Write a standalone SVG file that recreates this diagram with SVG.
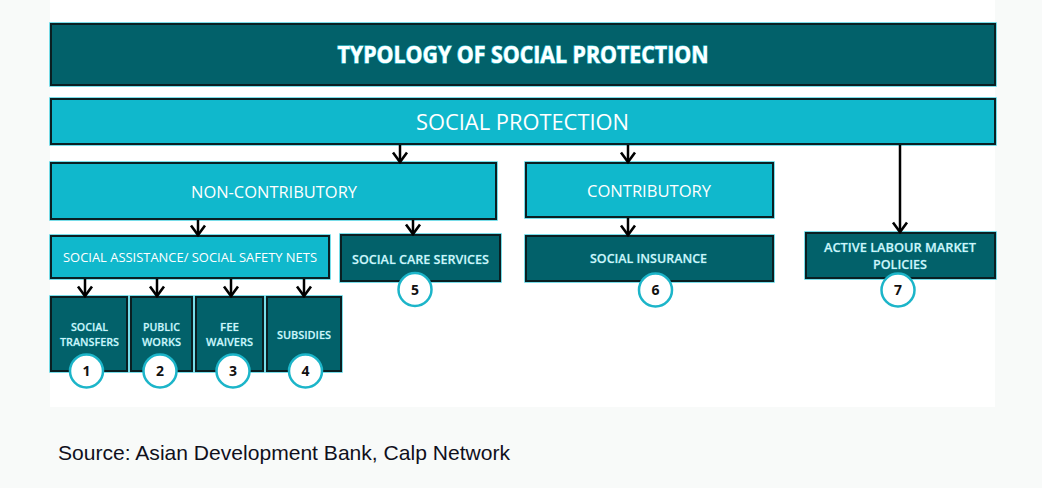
<svg xmlns="http://www.w3.org/2000/svg" width="1042" height="488" viewBox="0 0 1042 488">
  <defs>
    <style>
      .halo { fill: none; stroke: #4cd2e2; stroke-width: 1.5; }
      .dark { fill: #02616a; stroke: #0a1f22; stroke-width: 2; }
      .light { fill: #10b8cc; stroke: #0a1f22; stroke-width: 2; }
      .t { font-family: "Open Sans", "Noto Sans", "Liberation Sans", sans-serif; text-anchor: middle; }
      .tw { fill: #ffffff; }
      .td { fill: #d2f3f7; font-weight: 600; stroke: #3fc9db; stroke-width: 0.6; stroke-opacity: 0.7; paint-order: stroke; }
      .conn line { stroke: #000; stroke-width: 2.5; }
      .badge circle { fill: #fff; stroke: #1cb5c9; stroke-width: 2.5; }
      .badge text { font-family: "Open Sans", "Noto Sans", "Liberation Sans", sans-serif; font-weight: 700; font-size: 14px; fill: #111; text-anchor: middle; }
    </style>
    <marker id="arr" markerUnits="userSpaceOnUse" orient="auto" refX="0" refY="0" markerWidth="20" markerHeight="20" viewBox="-12 -10 14 20" overflow="visible">
      <path d="M-9.5,-7 L0,0 L-9.5,7" fill="none" stroke="#000" stroke-width="2.6" stroke-linejoin="miter"/>
    </marker>
  </defs>

  <rect x="0" y="0" width="1042" height="488" fill="#f8faf9"/>
  <rect x="50" y="0" width="945" height="407" fill="#ffffff"/>

  <g id="title">
    <rect class="halo" x="50" y="23" width="946" height="63"/>
    <rect x="51" y="24" width="944" height="61" fill="#02616a" stroke="#0a1f22" stroke-width="2"/>
    <text class="t" x="523" y="63" font-size="23" font-weight="700" fill="#ffffff" stroke="#58dceb" stroke-width="1.2" paint-order="stroke" textLength="371" lengthAdjust="spacingAndGlyphs">TYPOLOGY OF SOCIAL PROTECTION</text>
  </g>

  <g id="social-protection">
    <rect class="halo" x="50" y="98" width="946" height="47"/>
    <rect class="light" x="51" y="99" width="944" height="45"/>
    <text class="t tw" x="522.5" y="130" font-size="22" textLength="213" lengthAdjust="spacingAndGlyphs">SOCIAL PROTECTION</text>
  </g>

  <g id="non-contributory">
    <rect class="halo" x="50" y="162" width="447" height="58"/>
    <rect class="light" x="51" y="163" width="445" height="56"/>
    <text class="t tw" x="274" y="198" font-size="16.5" textLength="166" lengthAdjust="spacingAndGlyphs">NON-CONTRIBUTORY</text>
  </g>

  <g id="contributory">
    <rect class="halo" x="525" y="162" width="249" height="56"/>
    <rect class="light" x="526" y="163" width="247" height="54"/>
    <text class="t tw" x="649" y="197" font-size="16.5" textLength="124" lengthAdjust="spacingAndGlyphs">CONTRIBUTORY</text>
  </g>

  <g id="social-assistance">
    <rect class="halo" x="50" y="235" width="280" height="44"/>
    <rect class="light" x="51" y="236" width="278" height="42"/>
    <text class="t tw" x="190" y="262" font-size="13" textLength="254" lengthAdjust="spacingAndGlyphs">SOCIAL ASSISTANCE/ SOCIAL SAFETY NETS</text>
  </g>

  <g id="social-care">
    <rect class="halo" x="340" y="234" width="161" height="48"/>
    <rect class="dark" x="341" y="235" width="159" height="46"/>
    <text class="t td" x="420.5" y="264" font-size="12.5" textLength="137" lengthAdjust="spacingAndGlyphs">SOCIAL CARE SERVICES</text>
  </g>

  <g id="social-insurance">
    <rect class="halo" x="525" y="235" width="249" height="47"/>
    <rect class="dark" x="526" y="236" width="247" height="45"/>
    <text class="t td" x="648.5" y="263" font-size="12.5" textLength="117" lengthAdjust="spacingAndGlyphs">SOCIAL INSURANCE</text>
  </g>

  <g id="active-labour">
    <rect class="halo" x="805" y="232" width="191" height="47"/>
    <rect class="dark" x="806" y="233" width="189" height="45"/>
    <text class="t td" x="900" y="252" font-size="12.5" textLength="152" lengthAdjust="spacingAndGlyphs">ACTIVE LABOUR MARKET</text>
    <text class="t td" x="900" y="269" font-size="12.5" textLength="54" lengthAdjust="spacingAndGlyphs">POLICIES</text>
  </g>

  <g id="social-transfers">
    <rect class="halo" x="50" y="296" width="78" height="76"/>
    <rect class="dark" x="51" y="297" width="76" height="74"/>
    <text class="t td" x="89.5" y="331" font-size="11" textLength="37" lengthAdjust="spacingAndGlyphs">SOCIAL</text>
    <text class="t td" x="89.5" y="346" font-size="11" textLength="59" lengthAdjust="spacingAndGlyphs">TRANSFERS</text>
  </g>

  <g id="public-works">
    <rect class="halo" x="130" y="296" width="63" height="76"/>
    <rect class="dark" x="131" y="297" width="61" height="74"/>
    <text class="t td" x="161.5" y="331" font-size="11" textLength="37" lengthAdjust="spacingAndGlyphs">PUBLIC</text>
    <text class="t td" x="161.5" y="346" font-size="11" textLength="39" lengthAdjust="spacingAndGlyphs">WORKS</text>
  </g>

  <g id="fee-waivers">
    <rect class="halo" x="195" y="296" width="69" height="76"/>
    <rect class="dark" x="196" y="297" width="67" height="74"/>
    <text class="t td" x="229.5" y="331" font-size="11" textLength="19" lengthAdjust="spacingAndGlyphs">FEE</text>
    <text class="t td" x="229.5" y="346" font-size="11" textLength="47" lengthAdjust="spacingAndGlyphs">WAIVERS</text>
  </g>

  <g id="subsidies">
    <rect class="halo" x="266" y="296" width="76" height="76"/>
    <rect class="dark" x="267" y="297" width="74" height="74"/>
    <text class="t td" x="304" y="339" font-size="11" textLength="54" lengthAdjust="spacingAndGlyphs">SUBSIDIES</text>
  </g>

  <g id="connectors" class="conn">
    <line x1="400" y1="145" x2="400" y2="162" marker-end="url(#arr)"/>
    <line x1="628" y1="145" x2="628" y2="162" marker-end="url(#arr)"/>
    <line x1="900" y1="145" x2="900" y2="232" marker-end="url(#arr)"/>
    <line x1="198" y1="220" x2="198" y2="235" marker-end="url(#arr)"/>
    <line x1="413" y1="220" x2="413" y2="234" marker-end="url(#arr)"/>
    <line x1="628" y1="218" x2="628" y2="235" marker-end="url(#arr)"/>
    <line x1="85" y1="279" x2="85" y2="296" marker-end="url(#arr)"/>
    <line x1="157" y1="279" x2="157" y2="296" marker-end="url(#arr)"/>
    <line x1="231" y1="279" x2="231" y2="296" marker-end="url(#arr)"/>
    <line x1="304" y1="279" x2="304" y2="296" marker-end="url(#arr)"/>
  </g>

  <g id="badge-1" class="badge"><circle cx="86.5" cy="371" r="16.5"/><text x="86.5" y="376">1</text></g>
  <g id="badge-2" class="badge"><circle cx="160" cy="371" r="16.5"/><text x="160" y="376">2</text></g>
  <g id="badge-3" class="badge"><circle cx="233" cy="371" r="16.5"/><text x="233" y="376">3</text></g>
  <g id="badge-4" class="badge"><circle cx="305.5" cy="371" r="16.5"/><text x="305.5" y="376">4</text></g>
  <g id="badge-5" class="badge"><circle cx="415" cy="289.5" r="16.5"/><text x="415" y="294.5">5</text></g>
  <g id="badge-6" class="badge"><circle cx="655.5" cy="290" r="16.5"/><text x="655.5" y="295">6</text></g>
  <g id="badge-7" class="badge"><circle cx="898" cy="290" r="16.5"/><text x="898" y="295">7</text></g>

  <text x="58" y="460" font-family="Liberation Sans, Arial, sans-serif" font-size="21" fill="#10101c" textLength="452" lengthAdjust="spacingAndGlyphs">Source: Asian Development Bank, Calp Network</text>
</svg>
